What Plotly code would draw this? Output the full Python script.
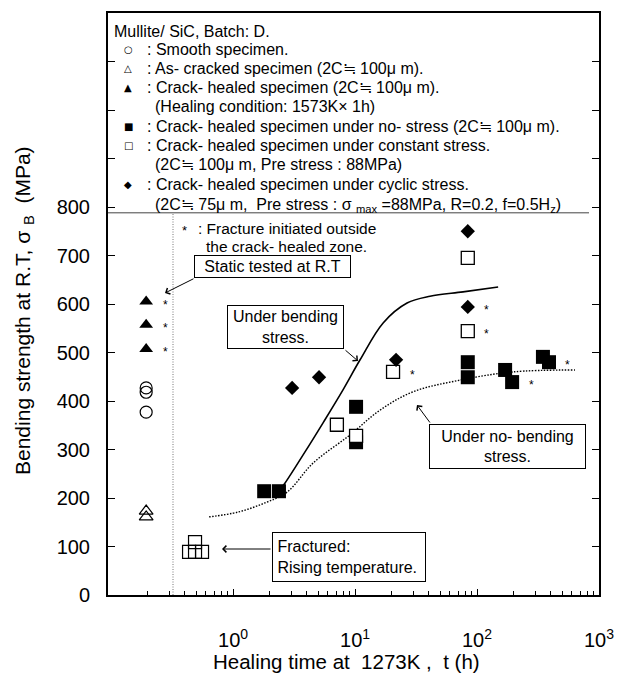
import math
import plotly.graph_objects as go

# ---------------- data (healing time in h, bending strength in MPa) ----------------
smooth_t = [0.194, 0.194, 0.194]
smooth_s = [427, 418, 377]

ascracked_t = [0.194, 0.194]
ascracked_s = [173, 161]

healed_t = [0.194, 0.194, 0.194]
healed_s = [605, 557, 507]
healed_star = [True, True, True]

nostress_t = [1.80, 2.38, 10.2, 10.2, 84, 84, 170, 194, 347, 389]
nostress_s = [214, 214, 388, 315, 480, 449, 464, 439, 491, 480]
nostress_star = [False, False, False, False, False, False, False, True, False, True]

const_t = [7.1, 10.2, 20.5, 84, 84]
const_s = [351, 328, 460, 695, 544]
const_star = [False, False, True, False, True]

fract_t = [0.436, 0.488, 0.557, 0.488]
fract_s = [89, 89, 89, 109]

cyclic_t = [3.05, 5.07, 21.7, 84, 84]
cyclic_s = [427, 449, 485, 750, 594]
cyclic_star = [False, False, False, False, True]

bend_t = [2.4, 2.67, 3.89, 5.47, 7.97, 11.0, 17.0, 26.7, 41.2, 76.8, 149]
bend_s = [216, 231, 295, 355, 423, 485, 561, 602, 616, 625, 635]

nobend_t = [0.636, 1.10, 1.83, 2.77, 4.53, 9.1, 16.0, 29.9, 72.6, 197, 635]
nobend_s = [161, 171, 190, 212, 272, 330, 381, 419, 443, 460, 464]

static_limit_t = 0.322
legend_floor_s = 788

x_tickvals = [1, 10, 100, 1000]
x_ticktext = ["10<sup>0</sup>", "10<sup>1</sup>", "10<sup>2</sup>", "10<sup>3</sup>"]
y_tickvals = [0, 100, 200, 300, 400, 500, 600, 700, 800, 900, 1000, 1100]
y_ticktext = ["0", "100", "200", "300", "400", "500", "600", "700", "800", "", "", ""]

legend_title = "Mullite/ SiC, Batch: D."
legend_rows = [
    ("○", ": Smooth specimen."),
    ("△", ": As- cracked specimen (2C≒ 100μ m)."),
    ("▲", ": Crack- healed specimen (2C≒ 100μ m)."),
    (None, "(Healing condition: 1573K× 1h)"),
    ("■", ": Crack- healed specimen under no- stress (2C≒ 100μ m)."),
    ("□", ": Crack- healed specimen under constant stress."),
    (None, "(2C≒ 100μ m, Pre stress : 88MPa)"),
    ("◆", ": Crack- healed specimen under cyclic stress."),
    (None, "(2C≒ 75μ m,  Pre stress : σ <sub>max</sub> =88MPa, R=0.2, f=0.5H<sub>z</sub>)"),
]

# ---------------- layout geometry (pixels) ----------------
W, H = 631, 673
PL, PR, PT, PB = 108, 599, 13, 595


def px(x):
    return (x - PL) / (PR - PL)


def py(y):
    return (PB - y) / (PB - PT)


FONT = "Liberation Sans, Arial, sans-serif"
fig = go.Figure()

# reference lines / curves
fig.add_trace(go.Scatter(x=[static_limit_t, static_limit_t], y=[0, legend_floor_s], mode="lines",
                         line=dict(color="#777", width=1, dash="1px,1.5px"), hoverinfo="skip"))
fig.add_trace(go.Scatter(x=bend_t, y=bend_s, mode="lines",
                         line=dict(color="black", width=1.6, shape="spline", smoothing=1)))
fig.add_trace(go.Scatter(x=nobend_t, y=nobend_s, mode="lines",
                         line=dict(color="black", width=1.4, dash="1.5px,1.5px", shape="spline", smoothing=1)))

# markers
fig.add_trace(go.Scatter(x=smooth_t, y=smooth_s, mode="markers",
                         marker=dict(symbol="circle-open", size=12, color="black", line=dict(width=1.2))))
fig.add_trace(go.Scatter(x=ascracked_t, y=ascracked_s, mode="markers",
                         marker=dict(symbol="triangle-up-open", size=12, color="black", line=dict(width=1.2))))
fig.add_trace(go.Scatter(x=healed_t, y=healed_s, mode="markers",
                         marker=dict(symbol="triangle-up", size=12, color="black", line=dict(width=0))))
fig.add_trace(go.Scatter(x=nostress_t, y=nostress_s, mode="markers",
                         marker=dict(symbol="square", size=14, color="black", line=dict(width=0))))
fig.add_trace(go.Scatter(x=fract_t, y=fract_s, mode="markers",
                         marker=dict(symbol="square-open", size=13, color="black", line=dict(width=1.2))))
fig.add_trace(go.Scatter(x=const_t, y=const_s, mode="markers",
                         marker=dict(symbol="square", size=13, color="white", line=dict(width=1.3, color="black"))))
fig.add_trace(go.Scatter(x=cyclic_t, y=cyclic_s, mode="markers",
                         marker=dict(symbol="diamond", size=11, color="black", line=dict(width=0))))

annotations = []

# asterisks (fracture outside healed zone)
for ts, ss, flags in [(healed_t, healed_s, healed_star), (nostress_t, nostress_s, nostress_star),
                      (const_t, const_s, const_star), (cyclic_t, cyclic_s, cyclic_star)]:
    for t, s, f in zip(ts, ss, flags):
        if f:
            annotations.append(dict(x=math.log10(t), y=s, xref="x", yref="y", text="*", showarrow=False,
                                    xshift=19, yshift=-3, font=dict(family=FONT, size=12, color="black")))

# legend block
LEG_FS = 16
annotations.append(dict(x=px(112), y=py(31), xref="paper", yref="paper", text=legend_title,
                        showarrow=False, xanchor="left", yanchor="middle",
                        font=dict(family=FONT, size=LEG_FS, color="black")))
row_y = [49, 68, 88, 107, 127, 146, 165, 185, 205]
for (sym, txt), yy in zip(legend_rows, row_y):
    if sym is not None:
        annotations.append(dict(x=px(128), y=py(yy), xref="paper", yref="paper", text=sym,
                                showarrow=False, xanchor="center", yanchor="middle",
                                font=dict(family="DejaVu Sans", size=10, color="black")))
        annotations.append(dict(x=px(145), y=py(yy), xref="paper", yref="paper", text=txt,
                                showarrow=False, xanchor="left", yanchor="middle",
                                font=dict(family=FONT, size=LEG_FS, color="black")))
    else:
        annotations.append(dict(x=px(153), y=py(yy), xref="paper", yref="paper", text=txt,
                                showarrow=False, xanchor="left", yanchor="middle",
                                font=dict(family=FONT, size=LEG_FS, color="black")))

annotations.append(dict(x=px(184), y=py(230), xref="paper", yref="paper", text="*",
                        showarrow=False, xanchor="center", yanchor="middle",
                        font=dict(family=FONT, size=13, color="black")))
annotations.append(dict(x=px(196), y=py(228), xref="paper", yref="paper", text=": Fracture initiated outside",
                        showarrow=False, xanchor="left", yanchor="middle",
                        font=dict(family=FONT, size=15.5, color="black")))
annotations.append(dict(x=px(204), y=py(246), xref="paper", yref="paper", text="the crack- healed zone.",
                        showarrow=False, xanchor="left", yanchor="middle",
                        font=dict(family=FONT, size=15.5, color="black")))

# boxed notes
BOX_FS = 16


def box(x0, y0, x1, y1, text, align="center"):
    annotations.append(dict(x=px((x0 + x1) / 2), y=py((y0 + y1) / 2), xref="paper", yref="paper",
                            text=text, showarrow=False, xanchor="center", yanchor="middle",
                            width=x1 - x0 - 2, height=y1 - y0 - 2, borderpad=0, borderwidth=1,
                            bordercolor="black", bgcolor="white", align=align, valign="middle",
                            font=dict(family=FONT, size=BOX_FS, color="black")))


def arrow(tx, ty, hx, hy):
    annotations.append(dict(x=px(hx), y=py(hy), xref="paper", yref="paper", text="",
                            showarrow=True, ax=tx - hx, ay=ty - hy, axref="pixel", ayref="pixel",
                            arrowhead=4, arrowsize=1.3, arrowwidth=1, arrowcolor="black", standoff=0))


box(194, 255, 351, 278, "Static tested at R.T")
arrow(195, 278, 165, 293)
box(227, 305, 344, 349, "Under bending<br>stress.")
arrow(344, 349, 358, 361)
box(429, 424, 586, 469, "Under no- bending<br>stress.")
arrow(431, 424, 417, 405)
box(272, 532, 426, 582, " Fractured:<br> Rising temperature.", align="left")
arrow(272, 549, 222, 549)

# axis titles
annotations.append(dict(x=px(24), y=py(311), xref="paper", yref="paper",
                        text="Bending strength at R.T, σ <sub>B</sub>  (MPa)", textangle=-90,
                        showarrow=False, xanchor="center", yanchor="middle",
                        font=dict(family=FONT, size=21, color="black")))
annotations.append(dict(x=px(346), y=py(661), xref="paper", yref="paper",
                        text="Healing time at  1273K ,  t (h)",
                        showarrow=False, xanchor="center", yanchor="middle",
                        font=dict(family=FONT, size=20.5, color="black")))

shapes = [dict(type="line", xref="paper", yref="y", x0=0, x1=px(589), y0=legend_floor_s, y1=legend_floor_s,
               line=dict(color="#444", width=1))]

fig.update_layout(
    width=W, height=H, autosize=False,
    margin=dict(l=PL, r=W - PR, t=PT, b=H - PB, pad=0),
    paper_bgcolor="white", plot_bgcolor="white",
    showlegend=False,
    annotations=annotations, shapes=shapes,
    font=dict(family=FONT, color="black"),
)
fig.update_xaxes(type="log", range=[-1.025, 3.0], tickvals=x_tickvals, ticktext=x_ticktext,
                 ticks="inside", ticklen=6, tickwidth=1, tickcolor="black",
                 minor=dict(ticks="inside", ticklen=4, tickwidth=1, tickcolor="black",
                            tickvals=[0.2, 0.3, 0.4, 0.5, 0.6, 0.7, 0.8, 0.9,
                                      2, 3, 4, 5, 6, 7, 8, 9, 20, 30, 40, 50, 60, 70, 80, 90,
                                      200, 300, 400, 500, 600, 700, 800, 900]),
                 showline=True, linewidth=2, linecolor="black", mirror=True,
                 showgrid=False, zeroline=False, ticklabelstandoff=26,
                 tickfont=dict(family=FONT, size=20, color="black"))
fig.update_yaxes(range=[0, 1200], tickvals=y_tickvals, ticktext=y_ticktext,
                 ticks="inside", ticklen=7, tickwidth=1, tickcolor="black",
                 showline=True, linewidth=2, linecolor="black", mirror="ticks",
                 showgrid=False, zeroline=False, ticklabelstandoff=12,
                 tickfont=dict(family=FONT, size=20, color="black"))

fig.write_html("out.html")
